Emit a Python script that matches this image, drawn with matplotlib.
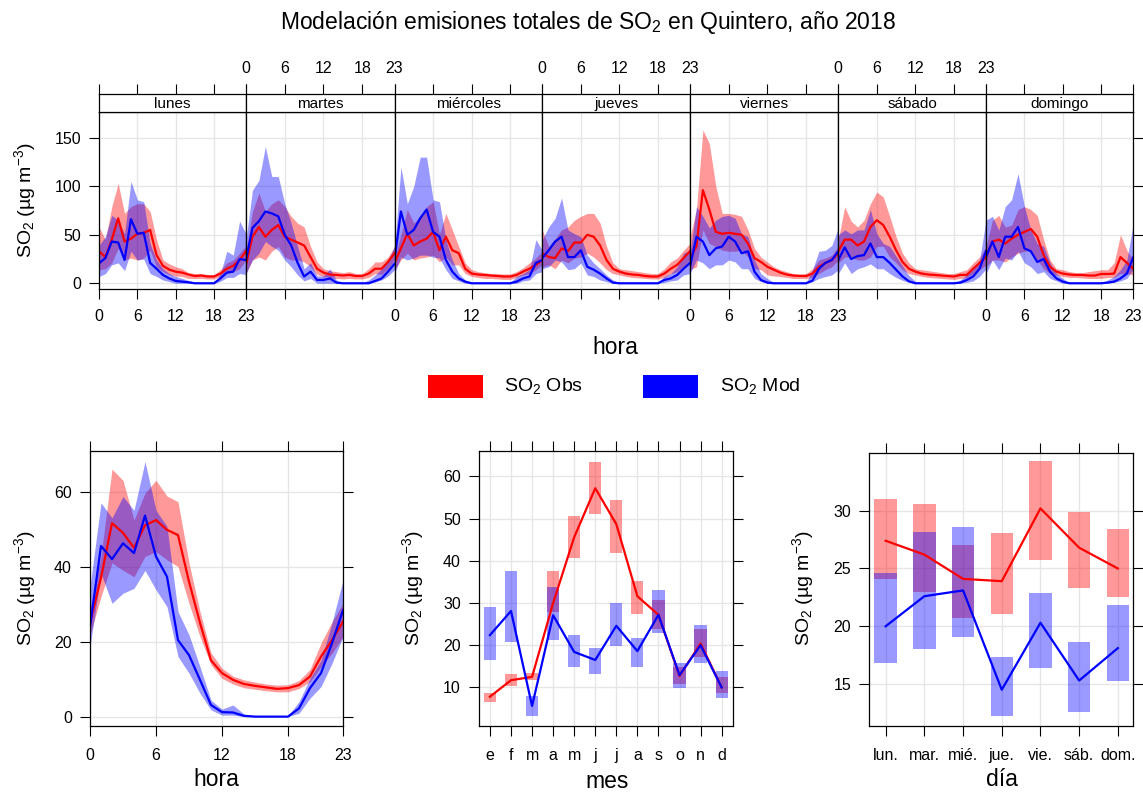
import numpy as np
import matplotlib
matplotlib.use('Agg')
import matplotlib.pyplot as plt
from matplotlib.patches import Rectangle

plt.rcParams['font.family'] = ['Liberation Sans', 'DejaVu Sans']
plt.rcParams['mathtext.fontset'] = 'custom'
plt.rcParams['mathtext.rm'] = 'Liberation Sans'
plt.rcParams['mathtext.it'] = 'Liberation Sans:italic'
plt.rcParams['mathtext.bf'] = 'Liberation Sans:bold'

# ---------------- data ----------------
hours = list(range(24))
dias = ['lunes', 'martes', 'miércoles', 'jueves', 'viernes', 'sábado', 'domingo']

# SO2 observado, hora x dia de la semana (media, limites inferior/superior)
obs_dh_mean = [
    [33, 27, 45, 67, 43, 46, 51, 52, 55, 29, 18, 14, 12, 11, 9, 7.5, 8, 7, 7, 10, 15, 18, 24, 33],
    [19, 48, 58, 48, 55, 60, 48, 45, 42, 39, 27, 15, 11, 9, 8.6, 8, 8.6, 7.5, 7.5, 10, 15, 15, 22, 31],
    [21, 36, 51, 39, 43, 46, 53, 34, 48, 34, 31, 15, 10, 9, 8.6, 8, 7.5, 7, 7, 8.6, 12, 15, 19, 24],
    [31, 27, 26, 36, 33, 42, 42, 50, 48, 39, 24, 15, 12, 10, 9, 8.6, 7.5, 7, 7, 10, 15, 19, 26, 33],
    [26, 38, 96, 76, 53, 51, 52, 51, 50, 41, 26, 22, 17, 14, 11, 9, 8, 7.5, 7.5, 10, 17, 21, 24, 31],
    [33, 45, 45, 39, 43, 58, 65, 60, 48, 34, 22, 15, 12, 10, 9, 8.6, 8, 7.5, 7, 8.6, 8.6, 15, 21, 27],
    [27, 43, 45, 41, 46, 50, 53, 56, 48, 29, 17, 12, 10, 9, 8.6, 8.6, 8, 8, 9.6, 9.6, 10, 27, 21, 15],
]
obs_dh_upper = [
    [58, 45, 79, 103, 72, 79, 82, 82, 74, 45, 24, 20, 17, 15, 11, 10, 10, 9, 9, 14, 21, 24, 31, 39],
    [33, 74, 93, 74, 82, 86, 79, 69, 62, 58, 38, 22, 15, 13, 12, 11, 12, 10, 10, 15, 22, 22, 27, 38],
    [27, 50, 76, 62, 69, 79, 84, 51, 72, 55, 38, 21, 14, 12, 11, 10, 10, 9.6, 9.6, 12, 16, 21, 26, 33],
    [55, 38, 46, 55, 58, 65, 69, 72, 72, 62, 38, 21, 15, 14, 13, 12, 11, 10, 10, 15, 22, 26, 34, 41],
    [48, 76, 158, 144, 100, 72, 72, 71, 69, 55, 36, 27, 22, 17, 14, 12, 10, 9.6, 10, 15, 24, 26, 29, 38],
    [45, 79, 64, 58, 65, 82, 94, 89, 69, 48, 31, 21, 15, 14, 13, 12, 11, 10, 10, 12, 14, 21, 27, 38],
    [38, 65, 70, 58, 60, 76, 79, 76, 70, 45, 24, 15, 14, 12, 11, 11, 12, 13, 14, 14, 21, 50, 34, 24],
]
obs_dh_lower = [
    [14, 15, 21, 36, 24, 26, 24, 26, 34, 17, 12, 9, 7.5, 7, 5, 5, 5, 4.5, 4.5, 7, 10, 12, 15, 24],
    [10, 24, 27, 24, 33, 38, 27, 24, 24, 22, 17, 9, 7, 6, 5, 4.5, 5, 4.5, 4.5, 6, 10, 9, 15, 24],
    [14, 24, 31, 24, 26, 27, 29, 22, 27, 19, 19, 10, 7, 6, 5, 5, 4.5, 4, 4, 6, 8.6, 10, 14, 19],
    [17, 19, 15, 24, 21, 26, 27, 31, 27, 21, 14, 10, 8.6, 7, 6, 5.5, 5, 4.5, 4.5, 6, 10, 12, 17, 24],
    [14, 17, 55, 41, 38, 34, 33, 33, 34, 27, 15, 14, 8.6, 7.5, 7, 6, 5, 5, 5, 6, 10, 14, 17, 24],
    [21, 27, 27, 24, 24, 27, 38, 38, 27, 21, 14, 10, 8.6, 7, 6, 5.5, 5, 4.5, 4, 5, 6, 10, 14, 19],
    [17, 24, 24, 22, 27, 31, 33, 34, 24, 15, 10, 8.6, 7, 6, 6, 5.5, 5, 5, 5, 6, 6, 10, 10, 8.6],
]
# SO2 modelado
mod_dh_mean = [
    [20.6, 26, 43, 42, 24, 66, 51, 52, 21, 15, 8.6, 5, 2.4, 1.7, 1, 0, 0, 0, 0, 5, 11, 12, 25, 24],
    [24, 57, 64, 74, 72, 69, 50, 39, 21, 7, 12, 3.4, 3.4, 5, 0.7, 0, 0, 0, 0, 0, 2.4, 5, 12, 20],
    [24, 74, 50, 55, 67, 76, 53, 48, 24, 12, 5, 1.7, 0, 0, 0, 0, 0, 0, 0, 1.7, 5, 7, 21, 24],
    [26, 34, 43, 48, 27, 27, 34, 17, 14, 10, 5, 0.7, 0, 0, 0, 0, 0, 0, 0, 3.4, 5, 8.6, 15, 21],
    [17, 48, 43, 29, 36, 38, 48, 43, 31, 33, 12, 3.4, 0.7, 0, 0, 0, 0, 0, 0, 2.7, 15, 21, 24, 33],
    [24, 37, 25, 28, 29, 41, 27, 27, 21, 14, 7, 2, 0, 0, 0, 0, 0, 0, 0, 0.7, 3.4, 7, 15, 33],
    [27, 43, 27, 48, 48, 58, 36, 33, 22, 25, 12, 5, 1.7, 0, 0, 0, 0, 0, 0, 0.7, 1.7, 5, 10, 27],
]
mod_dh_upper = [
    [39, 48, 70, 65, 51, 105, 86, 84, 41, 24, 15, 10, 7, 5, 3, 1, 0.7, 0.7, 0.7, 10, 33, 29, 64, 51],
    [45, 96, 106, 141, 110, 110, 82, 62, 38, 15, 21, 7.5, 7.5, 15, 3.4, 0.7, 0.7, 0.7, 0.7, 3.4, 8.6, 15, 24, 38],
    [34, 120, 82, 100, 130, 130, 86, 84, 45, 24, 10, 3.4, 0.7, 0.7, 0.7, 0.7, 0.7, 0.7, 0.7, 7, 10, 14, 45, 34],
    [45, 58, 67, 88, 55, 51, 48, 29, 21, 15, 8.6, 3.4, 0.7, 0.7, 0.7, 0.7, 0.7, 0.7, 0.7, 7, 10, 17, 31, 34],
    [31, 79, 69, 57, 65, 69, 70, 67, 51, 48, 24, 10, 5, 0.7, 0.7, 0.7, 0.7, 0.7, 0.7, 14, 33, 34, 39, 57],
    [50, 55, 51, 55, 55, 76, 51, 41, 38, 28, 18, 8, 2, 0.7, 0.7, 0.7, 0.7, 0.7, 0.7, 3.4, 8.6, 15, 24, 65],
    [65, 69, 55, 79, 86, 113, 79, 55, 41, 38, 21, 10, 5, 0.7, 0.7, 0.7, 0.7, 0.7, 0.7, 3.4, 7, 14, 24, 62],
]
mod_dh_lower = [
    [7, 10, 19, 21, 13, 33, 24, 25, 10, 7, 3.4, 1.7, 0, 0, 0, 0, 0, 0, 0, 2, 6, 6, 10, 9],
    [10, 24, 31, 43, 38, 34, 24, 17, 8.6, 2.4, 5, 0, 0, 0, 0, 0, 0, 0, 0, 0, 1.4, 3.4, 7.5, 14],
    [10, 27, 24, 26, 29, 29, 27, 26, 14, 5, 2.4, 0, 0, 0, 0, 0, 0, 0, 0, 0, 2.4, 3.4, 10, 12],
    [15, 17, 24, 22, 14, 15, 21, 8.6, 7, 3.4, 1.7, 0, 0, 0, 0, 0, 0, 0, 0, 0.7, 2.4, 3.4, 8.6, 10],
    [10, 24, 21, 15, 19, 19, 24, 22, 15, 15, 5, 1.7, 0, 0, 0, 0, 0, 0, 0, 1.7, 5, 7, 8.6, 14],
    [10, 21, 10, 15, 17, 20, 15, 15, 10, 6, 3, 1, 0, 0, 0, 0, 0, 0, 0, 0, 1, 2.4, 7, 15],
    [10, 24, 14, 26, 24, 33, 21, 17, 10, 12, 5, 2.4, 0, 0, 0, 0, 0, 0, 0, 0, 1, 2.4, 5, 15],
]

# perfil horario
obs_h_mean = [25, 37, 51.6, 49, 45, 51, 52.4, 49.8, 48.4, 36, 25, 15, 11.6, 9.8, 8.7, 8.2, 7.8, 7.4, 7.6, 8.4, 10.7, 16, 20.4, 25.3]
obs_h_upper = [28.4, 42.7, 66, 63, 52.4, 59.6, 63, 58.8, 57.3, 41, 28, 17, 12.9, 10.8, 9.8, 9.2, 8.7, 8.4, 8.5, 9.6, 12.6, 19.6, 25.3, 30.2]
obs_h_lower = [21.8, 32, 41, 39, 37.3, 42.7, 44, 41.8, 40, 30.2, 21.3, 13.8, 10.2, 8.7, 7.7, 7.3, 6.9, 6.6, 6.6, 7.5, 9.3, 13.3, 16.9, 21.3]
mod_h_mean = [24, 45.5, 42, 46.2, 43.6, 53.6, 42.7, 37.3, 20.4, 16.4, 9.8, 3.1, 1.2, 1.1, 0.2, 0, 0, 0, 0, 2.2, 7.6, 11.6, 19.6, 28.4]
mod_h_upper = [34.7, 57, 53, 58.7, 55, 68, 55, 50.7, 28, 21.8, 13.3, 4.4, 2, 3.1, 0.7, 0.2, 0.2, 0.2, 0.2, 4, 10.2, 15, 25, 36.4]
mod_h_lower = [18.7, 38.2, 30.2, 32.9, 34.2, 39, 33.8, 29.3, 16, 11.6, 6.2, 1.8, 0.4, 0.4, 0, 0, 0, 0, 0, 0.9, 4.9, 8, 14.2, 21.3]

# perfil mensual
meses = ['e', 'f', 'm', 'a', 'm', 'j', 'j', 'a', 's', 'o', 'n', 'd']
obs_m_mean = [7.8, 11.7, 12.5, 30, 45.6, 57.2, 48.7, 31.6, 27.2, 12.7, 20.4, 10]
obs_m_lower = [6.6, 10.3, 11.7, 27.9, 40.6, 51.1, 41.8, 27.5, 23.9, 10.9, 17.2, 8.6]
obs_m_upper = [8.6, 13.1, 13.3, 37.6, 50.7, 63.5, 54.4, 35.3, 30.8, 14.9, 23.9, 12.5]
mod_m_mean = [22.4, 28.1, 5.6, 27.1, 18.4, 16.5, 24.6, 18.6, 27.2, 12.9, 20, 10]
mod_m_lower = [16.5, 20.8, 3.2, 21.3, 14.9, 13.1, 19.8, 14.9, 22.8, 9.8, 15.7, 7.4]
mod_m_upper = [29.1, 37.7, 8.0, 33.8, 22.4, 19.3, 29.9, 21.6, 33.1, 15.8, 24.9, 13.9]

# perfil semanal
dias_abr = ['lun.', 'mar.', 'mié.', 'jue.', 'vie.', 'sáb.', 'dom.']
obs_w_mean = [27.4, 26.2, 24.1, 23.9, 30.2, 26.8, 25.0]
obs_w_lower = [24.1, 23.0, 20.7, 21.1, 25.7, 23.3, 22.5]
obs_w_upper = [31.0, 30.6, 27.05, 28.1, 34.3, 29.9, 28.4]
mod_w_mean = [20.0, 22.6, 23.1, 14.5, 20.3, 15.3, 18.1]
mod_w_lower = [16.8, 18.0, 19.1, 12.2, 16.4, 12.6, 15.3]
mod_w_upper = [24.65, 28.2, 28.6, 17.3, 22.9, 18.6, 21.8]

# ---------------- figure ----------------
W, H = 1143, 792
fig = plt.figure(figsize=(W / 100, H / 100), dpi=100)

def px_box(x0, y0, x1, y1):
    return [x0 / W, 1 - y1 / H, (x1 - x0) / W, (y1 - y0) / H]

RED = (1, 0, 0)
BLUE = (0, 0, 1)
ALPHA = 0.4
GRID = '#e6e6e6'
TICKFS = 11.5
LABFS = 16.5

def style(ax):
    ax.set_axisbelow(True)
    ax.grid(True, color=GRID, lw=1)
    for s in ax.spines.values():
        s.set_linewidth(0.9)
    ax.tick_params(direction='out', length=7, width=0.8, labelsize=TICKFS, pad=7)

hticks = [0, 6, 12, 18, 23]
edges = [99, 246, 394.5, 542.3, 690, 838.3, 986, 1133.3]

for i, dia in enumerate(dias):
    ax = fig.add_axes(px_box(edges[i], 112.3, edges[i + 1], 289.3))
    style(ax)
    ax.fill_between(hours, obs_dh_lower[i], obs_dh_upper[i], color=RED, alpha=ALPHA, lw=0)
    ax.plot(hours, obs_dh_mean[i], color=RED, lw=1.6)
    ax.fill_between(hours, mod_dh_lower[i], mod_dh_upper[i], color=BLUE, alpha=ALPHA, lw=0)
    ax.plot(hours, mod_dh_mean[i], color=BLUE, lw=1.6)
    ax.set_xlim(0, 23)
    ax.set_ylim(-6.2, 176.2)
    ax.set_xticks(hticks)
    ax.set_yticks([0, 50, 100, 150])
    ax.tick_params(axis='x', bottom=True, top=False, labelbottom=(i % 2 == 0))
    ax.tick_params(axis='y', left=(i == 0), labelleft=(i == 0), right=(i == 6),
                   labelright=False, pad=6)

    sax = fig.add_axes(px_box(edges[i], 94.3, edges[i + 1], 112.3))
    sax.set_xlim(0, 23)
    sax.set_ylim(0, 1)
    sax.set_yticks([])
    sax.set_xticks(hticks)
    for s in sax.spines.values():
        s.set_linewidth(0.9)
    sax.tick_params(axis='x', direction='out', length=7, width=0.8, labelsize=TICKFS, pad=6,
                    bottom=False, labelbottom=False, top=True, labeltop=(i % 2 == 1))
    sax.text(11.5, 0.45, dia, ha='center', va='center', fontsize=11)

ylab = 'SO$_2$ (µg m$^{-3}$)'
fig.text(25 / W, 1 - 200 / H, ylab, rotation=90, ha='center', va='center', fontsize=14)
fig.text(615 / W, 1 - 347 / H, 'hora', ha='center', va='center', fontsize=LABFS)
fig.text(588 / W, 1 - 22 / H, 'Modelación emisiones totales de SO$_2$ en Quintero, año 2018',
         ha='center', va='center', fontsize=16.5)

# leyenda
fig.add_artist(Rectangle((428 / W, 1 - 398 / H), 55 / W, 23 / H, transform=fig.transFigure,
                         facecolor=RED, edgecolor='none'))
fig.text(504 / W, 1 - 386 / H, 'SO$_2$ Obs', ha='left', va='center', fontsize=14)
fig.add_artist(Rectangle((643 / W, 1 - 398 / H), 55 / W, 23 / H, transform=fig.transFigure,
                         facecolor=BLUE, edgecolor='none'))
fig.text(720 / W, 1 - 386 / H, 'SO$_2$ Mod', ha='left', va='center', fontsize=14)

# hora
ax = fig.add_axes(px_box(90, 450.7, 343, 726))
style(ax)
ax.fill_between(hours, obs_h_lower, obs_h_upper, color=RED, alpha=ALPHA, lw=0)
ax.plot(hours, obs_h_mean, color=RED, lw=1.6)
ax.fill_between(hours, mod_h_lower, mod_h_upper, color=BLUE, alpha=ALPHA, lw=0)
ax.plot(hours, mod_h_mean, color=BLUE, lw=1.6)
ax.set_xlim(0, 23)
ax.set_ylim(-2.5, 70.9)
ax.set_xticks(hticks)
ax.set_yticks([0, 20, 40, 60])
ax.tick_params(top=True, right=True, labeltop=False, labelright=False)
ax.tick_params(axis='x', pad=9)
ax.tick_params(axis='y', pad=6)
fig.text(25 / W, 1 - 588 / H, ylab, rotation=90, ha='center', va='center', fontsize=14)
fig.text(216 / W, 1 - 779 / H, 'hora', ha='center', va='center', fontsize=LABFS)

# mes
mx = np.arange(1, 13)
ax = fig.add_axes(px_box(479, 450.7, 733, 726))
style(ax)
ax.bar(mx, np.subtract(obs_m_upper, obs_m_lower), bottom=obs_m_lower, width=0.58,
       color=RED, alpha=ALPHA, lw=0)
ax.plot(mx, obs_m_mean, color=RED, lw=1.6)
ax.bar(mx, np.subtract(mod_m_upper, mod_m_lower), bottom=mod_m_lower, width=0.58,
       color=BLUE, alpha=ALPHA, lw=0)
ax.plot(mx, mod_m_mean, color=BLUE, lw=1.6)
ax.set_xlim(0.48, 12.54)
ax.set_ylim(0.85, 66.1)
ax.set_xticks(mx)
ax.set_xticklabels(meses)
ax.set_yticks([10, 20, 30, 40, 50, 60])
ax.tick_params(top=True, right=True, labeltop=False, labelright=False)
ax.tick_params(axis='x', pad=9)
ax.tick_params(axis='y', pad=6)
fig.text(413 / W, 1 - 588 / H, ylab, rotation=90, ha='center', va='center', fontsize=14)
fig.text(607 / W, 1 - 781 / H, 'mes', ha='center', va='center', fontsize=LABFS)

# dia
wx = np.arange(1, 8)
ax = fig.add_axes(px_box(869.3, 453, 1133.3, 726))
style(ax)
ax.bar(wx, np.subtract(obs_w_upper, obs_w_lower), bottom=obs_w_lower, width=0.58,
       color=RED, alpha=ALPHA, lw=0)
ax.plot(wx, obs_w_mean, color=RED, lw=1.6)
ax.bar(wx, np.subtract(mod_w_upper, mod_w_lower), bottom=mod_w_lower, width=0.58,
       color=BLUE, alpha=ALPHA, lw=0)
ax.plot(wx, mod_w_mean, color=BLUE, lw=1.6)
ax.set_xlim(0.576, 7.40)
ax.set_ylim(11.36, 35.0)
ax.set_xticks(wx)
ax.set_xticklabels(dias_abr)
ax.set_yticks([15, 20, 25, 30])
ax.tick_params(top=True, right=True, labeltop=False, labelright=False)
ax.tick_params(axis='x', pad=9)
ax.tick_params(axis='y', pad=6)
fig.text(803 / W, 1 - 588 / H, ylab, rotation=90, ha='center', va='center', fontsize=14)
fig.text(1002 / W, 1 - 780 / H, 'día', ha='center', va='center', fontsize=LABFS)

fig.savefig('out.png', dpi=100)
